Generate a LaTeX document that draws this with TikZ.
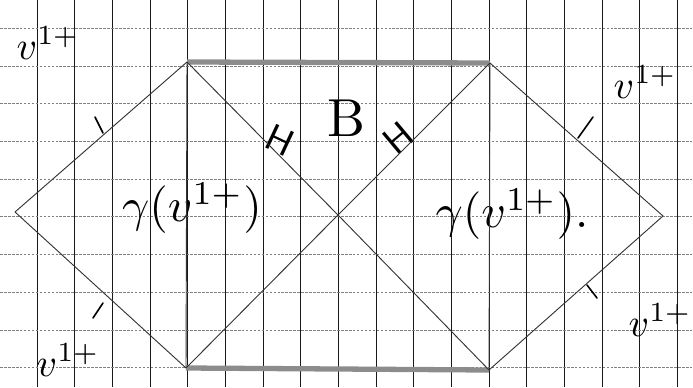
\documentclass[tikz,border=0pt]{standalone}
\usepackage{amsmath}
\usepackage{amssymb}

\begin{document}
\begin{tikzpicture}[x=0.0266cm, y=-0.0266cm,
    pencil/.style={draw=black!80, line width=0.7pt},
    rim/.style={draw=black!45, line width=4pt},
    tick/.style={draw=black, line width=1.2pt, line cap=round},
    lab/.style={inner sep=0pt, scale=3}]
    \useasboundingbox (0,0) rectangle (693,387);
    % paper grid
    \foreach \i in {1,...,18}
        \draw[black!90, line width=0.6pt] (37.65*\i-0.5,0) -- (37.65*\i-0.5,387);
    \foreach \j in {0,...,9}
        \draw[black!50, line width=0.5pt, dash pattern=on 2pt off 1pt] (0,28.3+37.7*\j) -- (693,28.3+37.7*\j);

    % Define corners
    \coordinate (left) at (15,212);
    \coordinate (tl) at (187,62);
    \coordinate (bl) at (186,368);
    \coordinate (mid) at (338,215);
    \coordinate (tr) at (490,63);
    \coordinate (br) at (489,370);
    \coordinate (right) at (663,216);

    % Define labels
    \node[lab] (vtl) at (48,43) {$v^{1+}$};
    \node[lab] (vbl) at (68,360) {$v^{1+}$};
    \node[lab] (vtr) at (645,82) {$v^{1+}$};
    \node[lab] (vbr) at (660,320) {$v^{1+}$};
    \node[lab, scale=1.35] (box) at (346,118) {B};
    \node[lab, scale=1.2] (gl) at (192,208) {$\gamma(v^{1+})$};
    \node[lab, scale=1.2] (gr) at (512,214) {$\gamma(v^{1+})$.};
    \node[lab, scale=0.95, rotate=-25, font=\sffamily] (hl) at (280,140) {H};
    \node[lab, scale=0.95, rotate=40, font=\sffamily] (hr) at (398,138) {H};

    % Define edges
    \draw[rim] (tl) -- (tr);
    \draw[rim] (bl) -- (br);
    \draw[pencil] (left) -- (tl);
    \draw[pencil] (left) -- (bl);
    \draw[pencil] (tl) -- (bl);
    \draw[pencil] (tr) -- (br);
    \draw[pencil] (tl) -- (mid) -- (br);
    \draw[pencil] (bl) -- (mid) -- (tr);
    \draw[pencil] (tr) -- (right) -- (br);

    % equal-length ticks
    \draw[tick] (95,117) -- (103,133);
    \draw[tick] (93,318) -- (103,303);
    \draw[tick] (593,117) -- (578,138);
    \draw[tick] (587,285) -- (597,298);
\end{tikzpicture}
\end{document}
